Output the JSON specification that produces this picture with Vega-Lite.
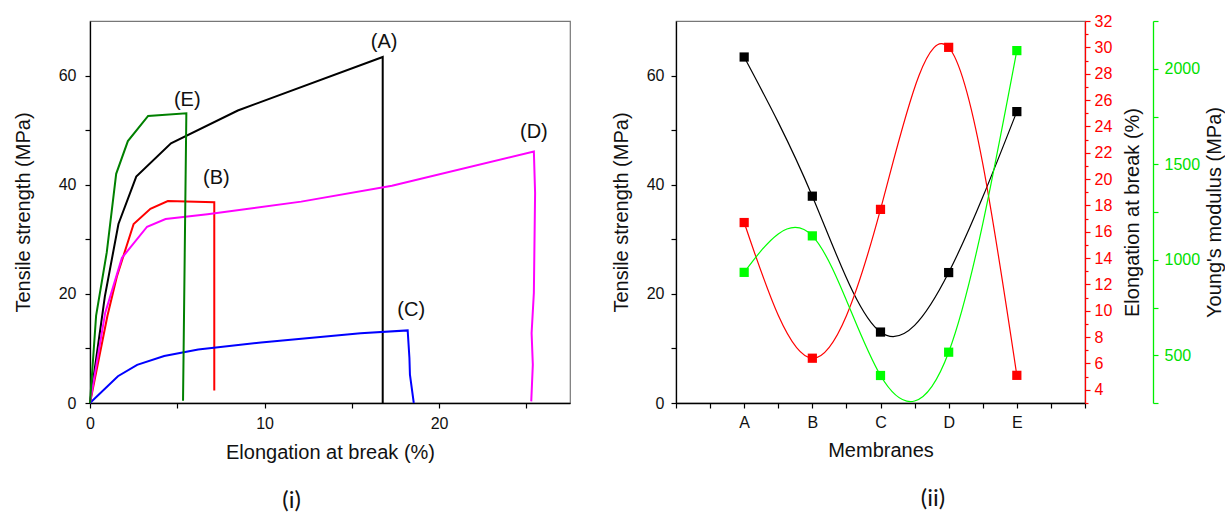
{
  "$schema": "https://vega.github.io/schema/vega-lite/v6.json",
  "background": "white",
  "padding": {"left": 12, "top": 12, "right": 0, "bottom": 0},
  "bounds": "flush",
  "spacing": 106,
  "config": {
    "view": {"stroke": "#777", "strokeWidth": 1.2},
    "axis": {
      "grid": false,
      "domainColor": "#000",
      "tickColor": "#000",
      "domainWidth": 1.3,
      "tickWidth": 1.2,
      "labelFont": "Liberation Sans",
      "titleFont": "Liberation Sans",
      "labelFontSize": 16,
      "titleFontSize": 20,
      "labelColor": "#111",
      "titleColor": "#111",
      "titleFontWeight": "normal",
      "labelFlush": false,
      "labelOverlap": false
    },
    "title": {"font": "Lato", "fontSize": 24, "fontWeight": "normal", "color": "#111"}
  },
  "datasets": {
    "curves": [
      {"sample": "A", "strain": 0, "stress": 0},
      {"sample": "A", "strain": 0.85, "stress": 19.5},
      {"sample": "A", "strain": 1.63, "stress": 32.8},
      {"sample": "A", "strain": 2.65, "stress": 41.5},
      {"sample": "A", "strain": 4.64, "stress": 47.6},
      {"sample": "A", "strain": 8.47, "stress": 53.6},
      {"sample": "A", "strain": 16.77, "stress": 63.4},
      {"sample": "A", "strain": 16.77, "stress": 0},
      {"sample": "B", "strain": 0, "stress": 0},
      {"sample": "B", "strain": 1.0, "stress": 16},
      {"sample": "B", "strain": 1.55, "stress": 23.3},
      {"sample": "B", "strain": 2.5, "stress": 32.8},
      {"sample": "B", "strain": 3.46, "stress": 35.6},
      {"sample": "B", "strain": 4.46, "stress": 37.0},
      {"sample": "B", "strain": 7.12, "stress": 36.8},
      {"sample": "B", "strain": 7.12, "stress": 2.3},
      {"sample": "C", "strain": 0, "stress": 0},
      {"sample": "C", "strain": 1.6, "stress": 4.9},
      {"sample": "C", "strain": 2.7, "stress": 7.0},
      {"sample": "C", "strain": 4.25, "stress": 8.6},
      {"sample": "C", "strain": 6.2, "stress": 9.8},
      {"sample": "C", "strain": 9.8, "stress": 11.1},
      {"sample": "C", "strain": 15.5, "stress": 12.8},
      {"sample": "C", "strain": 18.2, "stress": 13.3},
      {"sample": "C", "strain": 18.3, "stress": 8.3},
      {"sample": "C", "strain": 18.33, "stress": 5.2},
      {"sample": "C", "strain": 18.55, "stress": 0},
      {"sample": "D", "strain": 0, "stress": 0},
      {"sample": "D", "strain": 0.87, "stress": 16.5},
      {"sample": "D", "strain": 1.83, "stress": 26.6},
      {"sample": "D", "strain": 3.27, "stress": 32.3},
      {"sample": "D", "strain": 4.33, "stress": 33.7},
      {"sample": "D", "strain": 6.73, "stress": 34.6},
      {"sample": "D", "strain": 12.1, "stress": 36.9},
      {"sample": "D", "strain": 17.3, "stress": 39.8},
      {"sample": "D", "strain": 25.43, "stress": 46.1},
      {"sample": "D", "strain": 25.5, "stress": 38.5},
      {"sample": "D", "strain": 25.43, "stress": 20.2},
      {"sample": "D", "strain": 25.3, "stress": 12.8},
      {"sample": "D", "strain": 25.37, "stress": 7.0},
      {"sample": "D", "strain": 25.28, "stress": 0.3},
      {"sample": "E", "strain": 0, "stress": 0},
      {"sample": "E", "strain": 0.35, "stress": 16},
      {"sample": "E", "strain": 0.96, "stress": 27.6},
      {"sample": "E", "strain": 1.5, "stress": 42},
      {"sample": "E", "strain": 2.17, "stress": 48},
      {"sample": "E", "strain": 3.33, "stress": 52.6},
      {"sample": "E", "strain": 5.52, "stress": 53.1},
      {"sample": "E", "strain": 5.33, "stress": 0.4}
    ],
    "labels": [
      {"label": "(A)", "strain": 16.85, "stress": 66.2},
      {"label": "(B)", "strain": 7.24, "stress": 41.2},
      {"label": "(C)", "strain": 18.4, "stress": 17.0},
      {"label": "(D)", "strain": 25.43, "stress": 49.6},
      {"label": "(E)", "strain": 5.57, "stress": 55.6}
    ],
    "props": [
      {"membrane": "A", "tensile": 63.4, "elongation": 16.7, "modulus": 934},
      {"membrane": "B", "tensile": 37.9, "elongation": 6.4, "modulus": 1125},
      {"membrane": "C", "tensile": 13.0, "elongation": 17.7, "modulus": 394},
      {"membrane": "D", "tensile": 23.9, "elongation": 30.0, "modulus": 516},
      {"membrane": "E", "tensile": 53.4, "elongation": 5.1, "modulus": 2095}
    ]
  },
  "hconcat": [
    {
      "width": 480,
      "height": 382,
      "title": {"text": "(i)", "orient": "bottom", "anchor": "middle", "frame": "bounds", "offset": 27},
      "layer": [
        {
          "data": {"name": "curves"},
          "mark": {"type": "line", "strokeWidth": 2},
          "encoding": {
            "x": {
              "field": "strain", "type": "quantitative",
              "scale": {"domain": [0, 27.5], "nice": false, "zero": false},
              "axis": {
                "title": "Elongation at break (%)",
                "values": [0, 5, 10, 15, 20, 25],
                "labelExpr": "datum.value % 10 === 0 ? datum.label : ''",
                "tickSize": 5, "labelPadding": 7, "titlePadding": 11
              }
            },
            "y": {
              "field": "stress", "type": "quantitative",
              "scale": {"domain": [0, 70], "nice": false},
              "axis": {
                "title": "Tensile strength (MPa)",
                "values": [0, 10, 20, 30, 40, 50, 60],
                "labelExpr": "datum.value % 20 === 0 ? datum.label : ''",
                "tickSize": 5, "labelPadding": 9, "titlePadding": 25
              }
            },
            "color": {
              "field": "sample", "type": "nominal",
              "scale": {"domain": ["A", "B", "C", "D", "E"], "range": ["#000000", "#ff0000", "#0000ff", "#ff00ff", "#008000"]},
              "legend": null
            },
            "order": {"value": null}
          }
        },
        {
          "data": {"name": "labels"},
          "mark": {"type": "text", "font": "Liberation Sans", "fontSize": 20, "color": "#111", "baseline": "middle", "align": "center"},
          "encoding": {
            "x": {"field": "strain", "type": "quantitative"},
            "y": {"field": "stress", "type": "quantitative"},
            "text": {"field": "label"}
          }
        }
      ]
    },
    {
      "width": 409,
      "height": 382,
      "data": {"name": "props"},
      "title": {"text": "(ii)", "orient": "bottom", "anchor": "middle", "frame": "bounds", "offset": 27, "dx": 15},
      "encoding": {
        "x": {
          "field": "membrane", "type": "ordinal",
          "scale": {"type": "point", "padding": 0, "domain": ["_0", "_1", "A", "_2", "B", "_3", "C", "_4", "D", "_5", "E", "_6", "_7"]},
          "axis": {
            "title": "Membranes",
            "labelAngle": 0,
            "labelExpr": "indexof(['A','B','C','D','E'], datum.label) >= 0 ? datum.label : ''",
            "tickSize": 5, "labelPadding": 6, "titlePadding": 10
          }
        }
      },
      "layer": [
        {
          "encoding": {
            "y": {
              "field": "tensile", "type": "quantitative",
              "scale": {"domain": [0, 70], "nice": false},
              "axis": {
                "orient": "left",
                "title": "Tensile strength (MPa)",
                "values": [0, 10, 20, 30, 40, 50, 60],
                "labelExpr": "datum.value % 20 === 0 ? datum.label : ''",
                "tickSize": 5, "labelPadding": 7, "titlePadding": 15
              }
            }
          },
          "layer": [
            {"mark": {"type": "line", "interpolate": "natural", "color": "#000000", "strokeWidth": 1.2}},
            {"mark": {"type": "square", "size": 85, "color": "#000000", "opacity": 1, "filled": true}}
          ]
        },
        {
          "encoding": {
            "y": {
              "field": "elongation", "type": "quantitative",
              "scale": {"domain": [3, 32], "nice": false, "zero": false},
              "axis": {
                "orient": "right",
                "title": "Elongation at break (%)",
                "titleAngle": 270,
                "titleBaseline": "top",
                "values": [3, 4, 5, 6, 7, 8, 9, 10, 11, 12, 13, 14, 15, 16, 17, 18, 19, 20, 21, 22, 23, 24, 25, 26, 27, 28, 29, 30, 31, 32],
                "labelExpr": "datum.value % 2 === 0 ? datum.label : ''",
                "domainColor": "#ff0000", "tickColor": "#ff0000", "labelColor": "#ff0000",
                "tickSize": {"condition": {"test": "datum.value % 2 === 0", "value": 5}, "value": 3},
                "labelPadding": 4, "titlePadding": 11
              }
            }
          },
          "layer": [
            {"mark": {"type": "line", "interpolate": "natural", "color": "#ff0000", "strokeWidth": 1.2}},
            {"mark": {"type": "square", "size": 85, "color": "#ff0000", "opacity": 1, "filled": true}}
          ]
        },
        {
          "encoding": {
            "y": {
              "field": "modulus", "type": "quantitative",
              "scale": {"domain": [250, 2250], "nice": false, "zero": false},
              "axis": {
                "orient": "right",
                "offset": 68,
                "title": "Young's modulus (MPa)",
                "titleAngle": 270,
                "titleBaseline": "top",
                "format": "d",
                "values": [250, 500, 750, 1000, 1250, 1500, 1750, 2000, 2250],
                "labelExpr": "datum.value % 500 === 0 ? datum.label : ''",
                "domainColor": "#00ee00", "tickColor": "#00ee00", "labelColor": "#00e000",
                "tickSize": 5, "labelPadding": 6, "titlePadding": 5
              }
            }
          },
          "layer": [
            {"mark": {"type": "line", "interpolate": "natural", "color": "#00ff00", "strokeWidth": 1.2}},
            {"mark": {"type": "square", "size": 85, "color": "#00ff00", "opacity": 1, "filled": true}}
          ]
        }
      ],
      "resolve": {"scale": {"y": "independent"}, "axis": {"y": "independent"}}
    }
  ]
}
